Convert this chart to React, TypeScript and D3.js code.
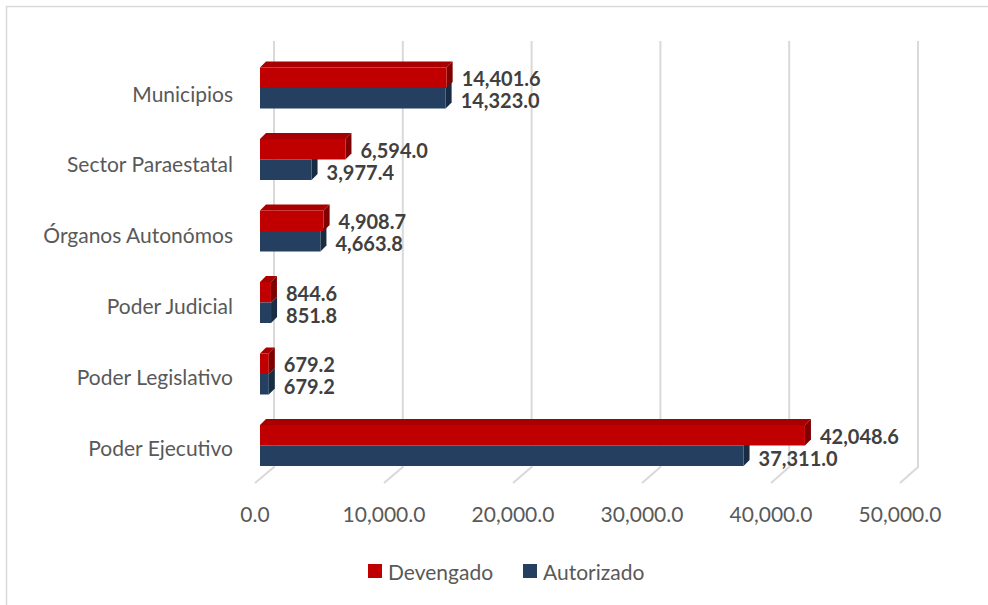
import React from "react"
import * as d3 from "d3"

const width = 988
const height = 605

// data, top to bottom as drawn
const categories = [
  "Municipios",
  "Sector Paraestatal",
  "Órganos Autonómos",
  "Poder Judicial",
  "Poder Legislativo",
  "Poder Ejecutivo",
]
const devengado = [14401.6, 6594.0, 4908.7, 844.6, 679.2, 42048.6]
const autorizado = [14323.0, 3977.4, 4663.8, 851.8, 679.2, 37311.0]
const ticks = [0, 10000, 20000, 30000, 40000, 50000]
const seriesNames = ["Devengado", "Autorizado"]

const RED = "#C00000"
const RED_TOP = "#A80000"
const RED_SIDE = "#7E0000"
const BLUE = "#243F60"
const BLUE_SIDE = "#182C44"
const GRID = "#D9D9D9"
const FONT = "Lato, 'Open Sans', sans-serif"

// 3d depth of the bars
const DX = 6
const DY = -6
const barH = 20.5

const App = () => {
  const xFront = d3.scaleLinear().domain([0, 50000]).range([260, 908])
  const xBack = d3.scaleLinear().domain([0, 50000]).range([274, 918])
  const xFloor = d3.scaleLinear().domain([0, 50000]).range([255, 900])
  const yLabel = d3.scalePoint().domain(categories).range([93, 447])
  const yBar = d3.scalePoint().domain(categories).range([88, 445.5])
  const fmt = d3.format(",.1f")

  const x0 = xFront(0)

  return (
    <svg
      width={width}
      height={height}
      style={{ position: "absolute", left: 0, top: 0, background: "#fff" }}
      fontFamily={FONT}
    >
      <rect x={6.5} y={6.5} width={1000} height={700} fill="none" stroke={GRID} strokeWidth={1.5} />

      {/* back wall gridlines + floor */}
      {ticks.map(t => (
        <g key={t}>
          <path
            d={`M${xBack(t)},41 L${xBack(t)},467 L${xFloor(t)},483`}
            fill="none"
            stroke={GRID}
            strokeWidth={2}
          />
          <text
            x={xFloor(t)}
            y={513}
            textAnchor="middle"
            dominantBaseline="central"
            fontSize={21}
            fill="#595959"
          >
            {fmt(t)}
          </text>
        </g>
      ))}

      {/* bars */}
      {categories.map((c, i) => {
        const mid = yBar(c)!
        const rTop = mid - barH
        const bBot = mid + barH
        const rx = xFront(devengado[i])
        const bx = xFront(autorizado[i])
        return (
          <g key={c}>
            {/* blue side */}
            <path
              d={`M${bx},${mid} L${bx + DX},${mid + DY} L${bx + DX},${bBot + DY} L${bx},${bBot} Z`}
              fill={BLUE_SIDE}
            />
            {/* red top */}
            <path
              d={`M${x0},${rTop} L${x0 + DX},${rTop + DY} L${rx + DX},${rTop + DY} L${rx},${rTop} Z`}
              fill={RED_TOP}
            />
            {/* red side */}
            <path
              d={`M${rx},${rTop} L${rx + DX},${rTop + DY} L${rx + DX},${mid + DY} L${rx},${mid} Z`}
              fill={RED_SIDE}
            />
            <rect x={x0} y={rTop} width={rx - x0} height={barH} fill={RED} />
            <rect x={x0} y={mid} width={bx - x0} height={barH} fill={BLUE} />

            <text
              x={rx + 15}
              y={mid - 10}
              dominantBaseline="central"
              fontSize={20}
              fontWeight="bold"
              fill="#404040"
            >
              {fmt(devengado[i])}
            </text>
            <text
              x={bx + 15}
              y={mid + 12}
              dominantBaseline="central"
              fontSize={20}
              fontWeight="bold"
              fill="#404040"
            >
              {fmt(autorizado[i])}
            </text>

            <text
              x={233}
              y={yLabel(c)}
              textAnchor="end"
              dominantBaseline="central"
              fontSize={21}
              fill="#595959"
            >
              {c}
            </text>
          </g>
        )
      })}

      {/* legend */}
      {seriesNames.map((s, i) => {
        const lx = i === 0 ? 368 : 523
        return (
          <g key={s}>
            <rect x={lx} y={564} width={14} height={14} fill={i === 0 ? RED : BLUE} />
            <text x={lx + 20} y={571} dominantBaseline="central" fontSize={21} fill="#595959">
              {s}
            </text>
          </g>
        )
      })}
    </svg>
  )
}

export default App
